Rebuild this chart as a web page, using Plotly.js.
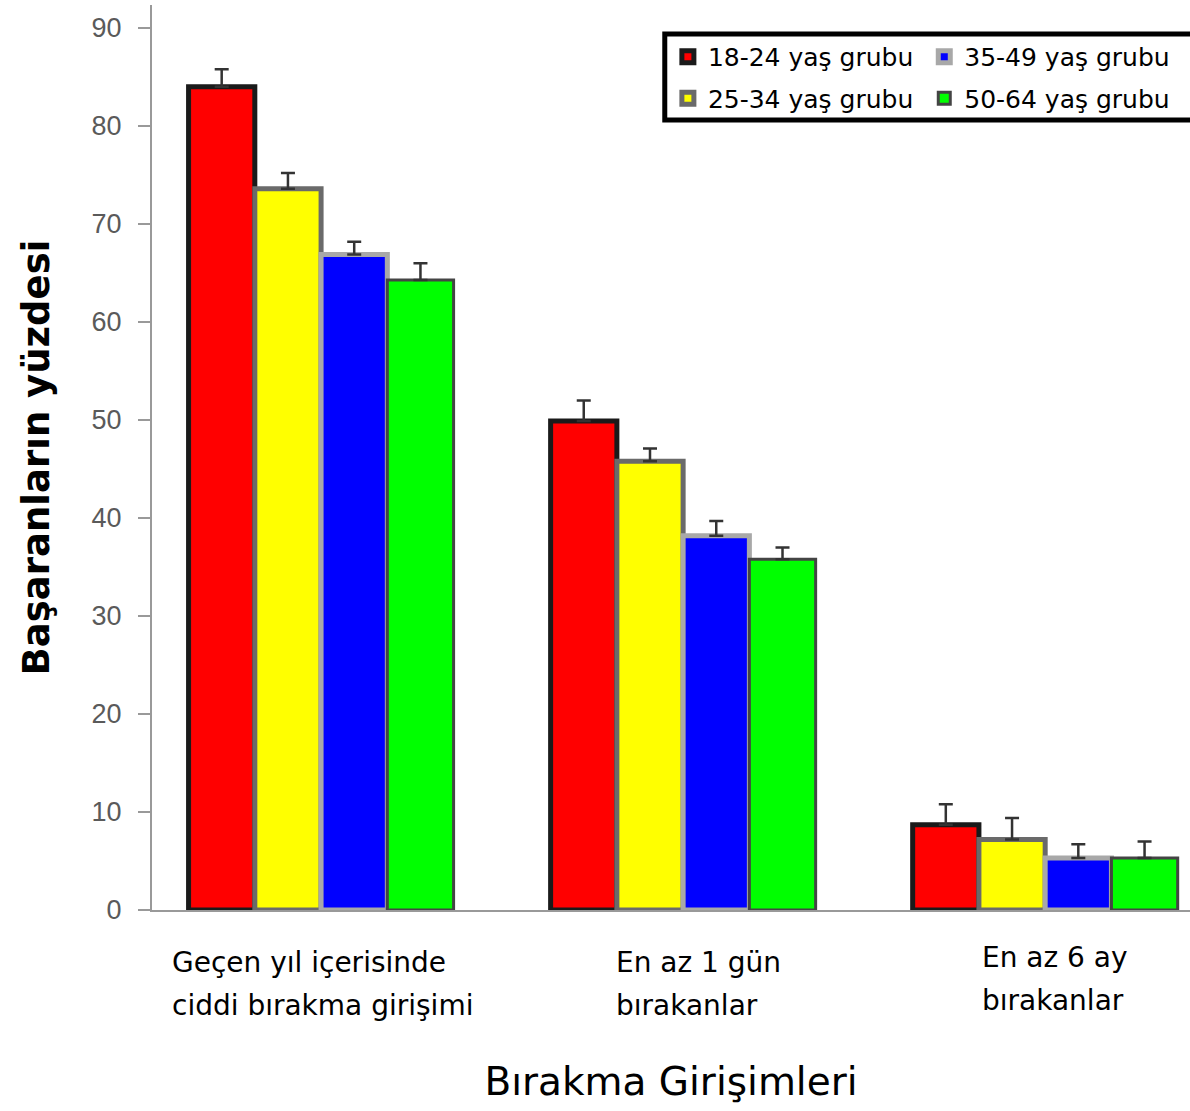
<!DOCTYPE html>
<html>
<head>
<meta charset="utf-8">
<script src="https://cdn.plot.ly/plotly-3.0.1.min.js"></script>
<style>html,body{margin:0;padding:0;background:#fff;}#chart{width:1190px;height:1111px;}</style>
</head>
<body>
<div id="chart"></div>
<script>
// ---- data ----
const catLine1 = ["Geçen yıl içerisinde", "En az 1 gün", "En az 6 ay"];
const catLine2 = ["ciddi bırakma girişimi", "bırakanlar", "bırakanlar"];
const seriesNames = ["18-24 yaş grubu", "25-34 yaş grubu", "35-49 yaş grubu", "50-64 yaş grubu"];
const v1824 = [84.0, 49.9, 8.7];
const v2534 = [73.6, 45.8, 7.2];
const v3549 = [66.9, 38.2, 5.3];
const v5064 = [64.3, 35.8, 5.3];
const e1824 = [1.8, 2.1, 2.1];
const e2534 = [1.6, 1.3, 2.2];
const e3549 = [1.3, 1.5, 1.4];
const e5064 = [1.7, 1.2, 1.7];
const yTitle = "Başaranların yüzdesi";
const xTitle = "Bırakma Girişimleri";

// ---- styling ----
const fills = ["#ff0000", "#ffff00", "#0000ff", "#00ff00"];
const edges = ["#1a1a1a", "#6a6a6a", "#a8a8a8", "#444444"];
const edgeW = [5, 5, 5, 3];
const legendRefs = ["legend", "legend", "legend2", "legend2"];
const comic = "DejaVu Sans, sans-serif";

const xs = catLine1.map((_, i) => i);
const values = [v1824, v2534, v3549, v5064];
const errs = [e1824, e2534, e3549, e5064];

const traces = values.map((v, k) => ({
  type: "bar",
  x: xs,
  y: v,
  name: seriesNames[k],
  legend: legendRefs[k],
  legendgroup: "g" + k,
  marker: {color: fills[k], line: {color: edges[k], width: edgeW[k]}},
  error_y: {type: "data", array: errs[k], arrayminus: errs[k].map(() => 0), symmetric: false,
    visible: true, color: "#333", thickness: 2.5, width: 7}
}));

const annotations = [];
const shifts = [-151, -69, -65];
const y1s = [-0.0575, -0.0575, -0.052];
const y2s = [-0.105, -0.105, -0.0995];
catLine1.forEach((t, i) => {
  annotations.push({x: i, y: y1s[i], xref: "x", yref: "paper", text: t, showarrow: false,
    xanchor: "left", yanchor: "middle", xshift: shifts[i], font: {family: comic, size: 28, color: "#000"}});
  annotations.push({x: i, y: y2s[i], xref: "x", yref: "paper", text: catLine2[i], showarrow: false,
    xanchor: "left", yanchor: "middle", xshift: shifts[i], font: {family: comic, size: 28, color: "#000"}});
});

const legendCommon = {
  orientation: "v", xanchor: "left", yanchor: "top", y: 0.968,
  bgcolor: "rgba(0,0,0,0)", borderwidth: 0, tracegroupgap: 6,
  font: {family: comic, size: 25, color: "#000"}, itemwidth: 30
};

const layout = {
  width: 1190, height: 1111,
  margin: {l: 152, r: 0, t: 5, b: 201},
  paper_bgcolor: "#fff", plot_bgcolor: "#fff",
  barmode: "group", bargap: 0.268, bargroupgap: 0,
  showlegend: true,
  legend: Object.assign({x: 0.497}, legendCommon),
  legend2: Object.assign({x: 0.744}, legendCommon),
  xaxis: {
    range: [-0.467, 2.40], showticklabels: false, ticks: "", showgrid: false, zeroline: false,
    showline: true, linecolor: "#999", linewidth: 2,
    title: {text: xTitle, font: {family: comic, size: 39, color: "#000"}, standoff: 157}
  },
  yaxis: {
    range: [0, 92.35], dtick: 10, showgrid: false, zeroline: false,
    showline: true, linecolor: "#999", linewidth: 2,
    ticks: "outside", ticklen: 12, tickwidth: 2, tickcolor: "#999", ticklabelstandoff: 11,
    tickfont: {family: "Liberation Sans, Arial, sans-serif", size: 27, color: "#5a5a5a"},
    title: {text: yTitle, font: {family: "DejaVu Sans, sans-serif", size: 37, color: "#000", weight: "bold"}, standoff: 31}
  },
  shapes: [{type: "rect", xref: "paper", yref: "paper", x0: 0.494, x1: 1.03, y0: 0.873, y1: 0.968,
    line: {color: "#000", width: 5}, fillcolor: "rgba(0,0,0,0)"}],
  annotations: annotations
};

Plotly.newPlot("chart", traces, layout, {displayModeBar: false, staticPlot: true});
</script>
</body>
</html>
